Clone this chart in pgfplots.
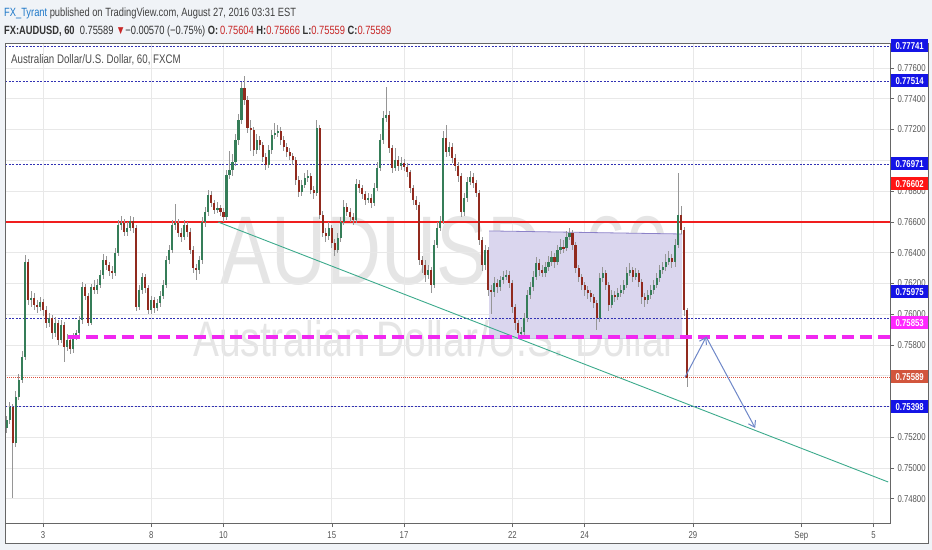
\documentclass[border=0pt]{standalone}
\usepackage{pgfplots}
\pgfplotsset{compat=1.18}
\usepackage{pgfplotstable}
\usepackage{fontspec}
\setmainfont{Liberation Sans}[FakeStretch=0.78]
\usetikzlibrary{arrows.meta}

\definecolor{bgc}{RGB}{240,243,247}
\definecolor{upc}{RGB}{53,125,88}
\definecolor{dnc}{RGB}{145,42,30}
\definecolor{wick}{RGB}{150,150,150}
\definecolor{lvl}{RGB}{50,50,180}
\definecolor{lvlred}{RGB}{240,30,30}
\definecolor{mag}{RGB}{240,40,240}
\definecolor{dotred}{RGB}{220,80,60}
\definecolor{trend}{RGB}{60,170,140}
\definecolor{arr}{RGB}{110,135,200}
\definecolor{boxf}{RGB}{218,214,238}
\definecolor{boxl}{RGB}{140,130,200}
\definecolor{tv}{RGB}{30,120,200}
\definecolor{hred}{RGB}{200,40,40}
\definecolor{tick}{RGB}{85,85,85}
\definecolor{bblue}{RGB}{20,20,230}
\definecolor{bred}{RGB}{255,20,20}
\definecolor{bmag}{RGB}{255,40,255}
\definecolor{bbrn}{RGB}{210,85,60}

% 2-hour candles, x = candle index (12 per trading day)
\pgfplotstableread{
i o h l c
0 0.75260 0.75340 0.75230 0.75312
1 0.75312 0.75430 0.75290 0.75397
2 0.75397 0.75420 0.74805 0.75163
3 0.75163 0.75500 0.75140 0.75462
4 0.75462 0.75610 0.75440 0.75572
5 0.75572 0.75760 0.75550 0.75722
6 0.75722 0.76385 0.75700 0.76339
7 0.76339 0.76360 0.76060 0.76092
8 0.76092 0.76150 0.76050 0.76105
9 0.76105 0.76140 0.76030 0.76060
10 0.76060 0.76090 0.76010 0.76047
11 0.76047 0.76110 0.76020 0.76079
12 0.76079 0.76100 0.75990 0.76027
13 0.76027 0.76050 0.75910 0.75943
14 0.75943 0.76010 0.75920 0.75975
15 0.75975 0.75995 0.75840 0.75878
16 0.75878 0.75980 0.75850 0.75943
17 0.75943 0.75965 0.75800 0.75832
18 0.75832 0.75960 0.75810 0.75930
19 0.75930 0.75950 0.75690 0.75787
20 0.75787 0.75870 0.75760 0.75832
21 0.75832 0.75850 0.75740 0.75774
22 0.75774 0.75880 0.75750 0.75852
23 0.75852 0.75900 0.75830 0.75878
24 0.75878 0.75990 0.75860 0.75962
25 0.75962 0.76210 0.75940 0.76177
26 0.76177 0.76200 0.76090 0.76118
27 0.76118 0.76140 0.75920 0.75943
28 0.75943 0.76200 0.75930 0.76177
29 0.76177 0.76220 0.76130 0.76157
30 0.76157 0.76230 0.76130 0.76190
31 0.76190 0.76290 0.76170 0.76255
32 0.76255 0.76390 0.76230 0.76352
33 0.76352 0.76380 0.76290 0.76320
34 0.76320 0.76340 0.76250 0.76281
35 0.76281 0.76310 0.76230 0.76268
36 0.76268 0.76430 0.76250 0.76398
37 0.76398 0.76610 0.76380 0.76580
38 0.76580 0.76640 0.76550 0.76593
39 0.76593 0.76620 0.76510 0.76534
40 0.76534 0.76600 0.76510 0.76560
41 0.76560 0.76640 0.76540 0.76606
42 0.76606 0.76630 0.76530 0.76560
43 0.76560 0.76580 0.76020 0.76047
44 0.76047 0.76190 0.76030 0.76157
45 0.76157 0.76270 0.76130 0.76242
46 0.76242 0.76260 0.76140 0.76170
47 0.76170 0.76190 0.76000 0.76027
48 0.76027 0.76120 0.76000 0.76092
49 0.76092 0.76110 0.76010 0.76040
50 0.76040 0.76100 0.76020 0.76073
51 0.76073 0.76150 0.76050 0.76118
52 0.76118 0.76220 0.76100 0.76190
53 0.76190 0.76380 0.76170 0.76352
54 0.76352 0.76450 0.76330 0.76417
55 0.76417 0.76610 0.76400 0.76580
56 0.76580 0.76720 0.76550 0.76593
57 0.76593 0.76620 0.76500 0.76528
58 0.76528 0.76560 0.76470 0.76502
59 0.76502 0.76610 0.76480 0.76580
60 0.76580 0.76600 0.76500 0.76534
61 0.76534 0.76560 0.76390 0.76417
62 0.76417 0.76440 0.76270 0.76300
63 0.76300 0.76330 0.76220 0.76287
64 0.76287 0.76380 0.76260 0.76352
65 0.76352 0.76630 0.76330 0.76599
66 0.76599 0.76700 0.76570 0.76664
67 0.76664 0.76810 0.76640 0.76775
68 0.76775 0.76800 0.76700 0.76723
69 0.76723 0.76740 0.76650 0.76677
70 0.76677 0.76730 0.76660 0.76690
71 0.76690 0.76710 0.76640 0.76664
72 0.76664 0.76690 0.76600 0.76632
73 0.76632 0.76940 0.76610 0.76905
74 0.76905 0.77060 0.76880 0.76937
75 0.76937 0.77040 0.76900 0.76989
76 0.76989 0.77170 0.76960 0.77132
77 0.77132 0.77300 0.77100 0.77262
78 0.77262 0.77510 0.77240 0.77470
79 0.77470 0.77548 0.77360 0.77392
80 0.77392 0.77420 0.77180 0.77210
81 0.77210 0.77260 0.77060 0.77197
82 0.77197 0.77220 0.77030 0.77067
83 0.77067 0.77170 0.77040 0.77132
84 0.77132 0.77160 0.77070 0.77100
85 0.77100 0.77120 0.76990 0.77022
86 0.77022 0.77050 0.76940 0.76970
87 0.76970 0.77100 0.76950 0.77067
88 0.77067 0.77200 0.77040 0.77165
89 0.77165 0.77240 0.77140 0.77178
90 0.77178 0.77230 0.77150 0.77191
91 0.77191 0.77220 0.77100 0.77132
92 0.77132 0.77160 0.77060 0.77087
93 0.77087 0.77110 0.77020 0.77054
94 0.77054 0.77080 0.77000 0.77028
95 0.77028 0.77050 0.76970 0.77002
96 0.77002 0.77020 0.76840 0.76872
97 0.76872 0.76900 0.76760 0.76794
98 0.76794 0.76870 0.76770 0.76840
99 0.76840 0.76920 0.76820 0.76885
100 0.76885 0.76940 0.76860 0.76898
101 0.76898 0.76920 0.76780 0.76807
102 0.76807 0.76830 0.76750 0.76788
103 0.76788 0.77260 0.76770 0.77210
104 0.77210 0.77230 0.76620 0.76645
105 0.76645 0.76670 0.76500 0.76528
106 0.76528 0.76560 0.76470 0.76508
107 0.76508 0.76600 0.76480 0.76560
108 0.76560 0.76580 0.76430 0.76463
109 0.76463 0.76490 0.76380 0.76417
110 0.76417 0.76530 0.76400 0.76495
111 0.76495 0.76630 0.76470 0.76599
112 0.76599 0.76740 0.76580 0.76697
113 0.76697 0.76720 0.76640 0.76664
114 0.76664 0.76690 0.76600 0.76632
115 0.76632 0.76660 0.76580 0.76612
116 0.76612 0.76880 0.76590 0.76846
117 0.76846 0.76870 0.76790 0.76820
118 0.76820 0.76840 0.76750 0.76781
119 0.76781 0.76800 0.76710 0.76742
120 0.76742 0.76790 0.76720 0.76755
121 0.76755 0.76780 0.76690 0.76723
122 0.76723 0.76850 0.76700 0.76820
123 0.76820 0.76990 0.76800 0.76950
124 0.76950 0.77170 0.76930 0.77132
125 0.77132 0.77320 0.77110 0.77275
126 0.77275 0.77477 0.77250 0.77295
127 0.77295 0.77320 0.77050 0.77080
128 0.77080 0.77100 0.76920 0.76950
129 0.76950 0.77080 0.76930 0.77002
130 0.77002 0.77030 0.76930 0.76963
131 0.76963 0.77020 0.76940 0.76983
132 0.76983 0.77010 0.76930 0.76957
133 0.76957 0.76980 0.76890 0.76924
134 0.76924 0.76940 0.76790 0.76820
135 0.76820 0.76840 0.76710 0.76742
136 0.76742 0.76770 0.76680 0.76710
137 0.76710 0.76730 0.76320 0.76352
138 0.76352 0.76380 0.76270 0.76320
139 0.76320 0.76350 0.76210 0.76255
140 0.76255 0.76320 0.76230 0.76287
141 0.76287 0.76310 0.76140 0.76190
142 0.76190 0.76480 0.76170 0.76450
143 0.76450 0.76600 0.76430 0.76560
144 0.76560 0.76640 0.76540 0.76606
145 0.76606 0.77190 0.76590 0.77145
146 0.77145 0.77230 0.77020 0.77054
147 0.77054 0.77120 0.77030 0.77087
148 0.77087 0.77110 0.76980 0.77015
149 0.77015 0.77040 0.76930 0.76963
150 0.76963 0.76990 0.76860 0.76898
151 0.76898 0.76920 0.76630 0.76664
152 0.76664 0.76790 0.76640 0.76755
153 0.76755 0.76890 0.76730 0.76859
154 0.76859 0.76930 0.76840 0.76892
155 0.76892 0.76920 0.76820 0.76853
156 0.76853 0.76870 0.76760 0.76788
157 0.76788 0.76810 0.76450 0.76482
158 0.76482 0.76500 0.76280 0.76320
159 0.76320 0.76450 0.76290 0.76417
160 0.76417 0.76440 0.76120 0.76157
161 0.76157 0.76190 0.76000 0.76144
162 0.76144 0.76240 0.76110 0.76203
163 0.76203 0.76230 0.76140 0.76177
164 0.76177 0.76250 0.76150 0.76222
165 0.76222 0.76280 0.76200 0.76242
166 0.76242 0.76290 0.76220 0.76255
167 0.76255 0.76280 0.76170 0.76203
168 0.76203 0.76220 0.76010 0.76047
169 0.76047 0.76070 0.75900 0.75943
170 0.75943 0.75960 0.75845 0.75878
171 0.75878 0.75920 0.75845 0.75884
172 0.75884 0.76010 0.75860 0.75975
173 0.75975 0.76160 0.75950 0.76125
174 0.76125 0.76210 0.76100 0.76177
175 0.76177 0.76280 0.76150 0.76242
176 0.76242 0.76370 0.76220 0.76333
177 0.76333 0.76360 0.76250 0.76287
178 0.76287 0.76320 0.76240 0.76268
179 0.76268 0.76340 0.76240 0.76307
180 0.76307 0.76380 0.76280 0.76339
181 0.76339 0.76410 0.76310 0.76372
182 0.76372 0.76400 0.76300 0.76339
183 0.76339 0.76450 0.76320 0.76417
184 0.76417 0.76490 0.76390 0.76437
185 0.76437 0.76480 0.76400 0.76430
186 0.76430 0.76540 0.76410 0.76502
187 0.76502 0.76560 0.76480 0.76528
188 0.76528 0.76550 0.76420 0.76450
189 0.76450 0.76470 0.76270 0.76300
190 0.76300 0.76320 0.76210 0.76242
191 0.76242 0.76260 0.76160 0.76190
192 0.76190 0.76210 0.76120 0.76157
193 0.76157 0.76180 0.76100 0.76138
194 0.76138 0.76160 0.76080 0.76112
195 0.76112 0.76130 0.76040 0.76073
196 0.76073 0.76090 0.75900 0.75975
197 0.75975 0.76270 0.75950 0.76235
198 0.76235 0.76310 0.76210 0.76268
199 0.76268 0.76290 0.76160 0.76190
200 0.76190 0.76210 0.76020 0.76060
201 0.76060 0.76160 0.76040 0.76125
202 0.76125 0.76150 0.76080 0.76112
203 0.76112 0.76170 0.76090 0.76138
204 0.76138 0.76190 0.76110 0.76157
205 0.76157 0.76220 0.76130 0.76190
206 0.76190 0.76310 0.76170 0.76268
207 0.76268 0.76330 0.76250 0.76287
208 0.76287 0.76310 0.76210 0.76242
209 0.76242 0.76300 0.76220 0.76268
210 0.76268 0.76290 0.76180 0.76209
211 0.76209 0.76230 0.76070 0.76112
212 0.76112 0.76140 0.76050 0.76092
213 0.76092 0.76160 0.76070 0.76125
214 0.76125 0.76190 0.76100 0.76157
215 0.76157 0.76220 0.76130 0.76190
216 0.76190 0.76270 0.76170 0.76235
217 0.76235 0.76320 0.76210 0.76287
218 0.76287 0.76340 0.76260 0.76307
219 0.76307 0.76390 0.76280 0.76339
220 0.76339 0.76410 0.76320 0.76365
221 0.76365 0.76390 0.76300 0.76339
222 0.76339 0.76490 0.76310 0.76450
223 0.76450 0.76918 0.76430 0.76645
224 0.76645 0.76700 0.76520 0.76547
225 0.76547 0.76570 0.75990 0.76027
226 0.76027 0.76040 0.75530 0.75589
}\candles

\newcommand{\pricebox}[3]{%
  \node[fill=#2, text=white, font=\bfseries\fontsize{10}{10}\selectfont,
        minimum width=37bp, minimum height=13bp, inner sep=0pt, anchor=west]
        at (891bp,#1bp) {#3};}

\begin{document}
\begin{tikzpicture}
% page and panel
\fill[bgc] (0,0) rectangle (932bp,550bp);
\fill[white] (5bp,7bp) rectangle (928bp,507bp);

% header
\node[anchor=base west, inner sep=0pt, font=\fontsize{12}{14}\selectfont, text=black!75]
  at (4bp,533bp) {\textcolor{tv}{FX\_Tyrant} published on TradingView.com, August 27, 2016 03:31 EST};
\node[anchor=base west, inner sep=0pt, font=\fontsize{12}{14}\selectfont, text=black!80]
  at (4bp,515bp) {\textbf{FX:AUDUSD, 60}\ \ 0.75589 \textcolor{hred}{▼}−0.00570 (−0.75\%)
  \textbf{O:}\,\textcolor{hred}{0.75604} \textbf{H:}\textcolor{hred}{0.75666}
  \textbf{L:}\textcolor{hred}{0.75559} \textbf{C:}\textcolor{hred}{0.75589}};

% watermark
\node[anchor=base, inner sep=0pt, text=gray!20, font=\fontsize{98}{98}\selectfont]
  at (445bp,265bp) {AUDUSD, 60};
\node[anchor=base, inner sep=0pt, text=gray!20, font=\fontsize{50}{50}\selectfont]
  at (435bp,193bp) {Australian Dollar/U.S. Dollar};

\begin{axis}[
  at={(5bp,27bp)}, anchor=south west,
  scale only axis, width=885bp, height=480bp,
  xmin=-0.6, xmax=293.5,
  ymin=0.746425, ymax=0.777625,
  axis line style={draw=black!60, line width=0.8pt},
  xtick={12,48,72,108,132,168,192,228,264,288},
  xticklabels={3,8,10,15,17,22,24,29,Sep,5},
  ytick={0.748,0.750,0.752,0.754,0.756,0.758,0.760,0.762,0.764,0.766,0.768,0.770,0.772,0.774,0.776},
  yticklabels={0.74800,0.75000,0.75200,,,0.75800,0.76000,0.76200,0.76400,0.76600,0.76800,,0.77200,0.77400,0.77600},
  xtick pos=bottom, ytick pos=right, yticklabel pos=right,
  tick align=outside, major tick length=4bp,
  tick style={draw=black!60, line width=0.6pt},
  grid=major, grid style={draw=black!9, line width=0.7pt},
  ticklabel style={text=tick, font=\fontsize{10}{10}\selectfont},
  xticklabel style={yshift=-1bp},
]
% consolidation box
\addplot[fill=boxf, draw=none, forget plot]
  coordinates {(160.3,0.75845) (224.4,0.75845) (224.4,0.76521) (160.3,0.76541)} -- cycle;
\addplot[boxl, line width=0.8pt] coordinates {(160.3,0.76541) (224.4,0.76521)};
\addplot[boxl!50, line width=0.6pt] coordinates {(160.3,0.75845) (224.4,0.75845)};

% levels
\addplot[lvl, line width=0.8pt, dash pattern=on 2bp off 1.5bp] coordinates {(-0.6,0.77741) (293.5,0.77741)};
\addplot[lvl, line width=0.8pt, dash pattern=on 2bp off 1.5bp] coordinates {(-0.6,0.77514) (293.5,0.77514)};
\addplot[lvl, line width=0.8pt, dash pattern=on 2bp off 1.5bp] coordinates {(-0.6,0.76971) (293.5,0.76971)};
\addplot[lvl, line width=0.8pt, dash pattern=on 2bp off 1.5bp] coordinates {(-0.6,0.75975) (293.5,0.75975)};
\addplot[lvl, line width=0.8pt, dash pattern=on 2bp off 1.5bp] coordinates {(-0.6,0.75398) (293.5,0.75398)};
\addplot[lvlred, line width=1.5pt] coordinates {(-0.6,0.76600) (293.5,0.76600)};
\addplot[dotred, line width=0.8pt, dash pattern=on 1bp off 1bp] coordinates {(-0.6,0.75589) (293.5,0.75589)};
\addplot[trend, line width=0.9pt] coordinates {(70.2,0.76599) (292.9,0.74909)};

% wicks
\addplot[draw=none, mark=none, forget plot,
  error bars/.cd, y dir=both, y explicit, error mark=none,
  error bar style={line width=0.7bp, draw=wick}]
  table[x=i, y expr={(\thisrow{h}+\thisrow{l})/2},
        y error expr={(\thisrow{h}-\thisrow{l})/2}] {\candles};
% bodies, up
\addplot[draw=none, mark=none, forget plot,
  restrict expr to domain={\thisrow{c}-\thisrow{o}}{0:1},
  error bars/.cd, y dir=both, y explicit, error mark=none,
  error bar style={line width=2.1bp, draw=upc}]
  table[x=i, y expr={(\thisrow{o}+\thisrow{c})/2},
        y error expr={abs(\thisrow{c}-\thisrow{o})/2}] {\candles};
% bodies, down
\addplot[draw=none, mark=none, forget plot,
  restrict expr to domain={\thisrow{c}-\thisrow{o}}{-1:0},
  error bars/.cd, y dir=both, y explicit, error mark=none,
  error bar style={line width=2.1bp, draw=dnc}]
  table[x=i, y expr={(\thisrow{o}+\thisrow{c})/2},
        y error expr={abs(\thisrow{c}-\thisrow{o})/2}] {\candles};

% support level
\addplot[mag, line width=3.8pt, dash pattern=on 12bp off 6bp] coordinates {(20.3,0.75853) (293.5,0.75853)};

% projected path
\addplot[arr, line width=1pt, -{Straight Barb[length=6bp,width=8bp]}]
  coordinates {(225.4,0.75591) (232.4,0.75852)};
\addplot[arr, line width=1pt, -{Straight Barb[length=6bp,width=8bp]}]
  coordinates {(232.4,0.75852) (248.7,0.75260)};
\end{axis}

% panel frame and legend text
\draw[black!60, line width=0.8pt] (5bp,7bp) rectangle (928bp,507bp);
\node[anchor=base west, inner sep=0pt, text=black!70, font=\fontsize{12.5}{14}\selectfont]
  at (11bp,486bp) {Australian Dollar/U.S. Dollar, 60, FXCM};

% price labels
\pricebox{504}{bblue}{0.77741}
\pricebox{469}{bblue}{0.77514}
\pricebox{386}{bblue}{0.76971}
\pricebox{366}{bred}{0.76602}
\pricebox{258}{bblue}{0.75975}
\pricebox{227}{bmag}{0.75853}
\pricebox{173}{bbrn}{0.75589}
\pricebox{143}{bblue}{0.75398}

\pgfresetboundingbox
\useasboundingbox (0,0) rectangle (932bp,550bp);
\end{tikzpicture}
\end{document}
